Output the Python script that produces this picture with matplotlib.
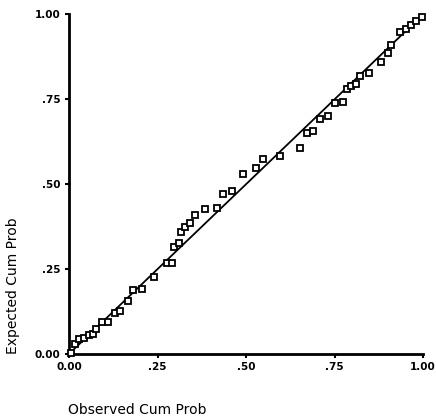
import numpy as np
import matplotlib
matplotlib.use('Agg')
import matplotlib.pyplot as plt

# ── 数据：观察累积概率 vs 期望累积概率 ─────────────────────────────
observed = [0.005, 0.017, 0.029, 0.043, 0.057, 0.069, 0.076, 0.092, 0.109, 0.130,
            0.144, 0.166, 0.182, 0.206, 0.241, 0.276, 0.290, 0.298, 0.311, 0.316,
            0.328, 0.342, 0.356, 0.384, 0.418, 0.434, 0.460, 0.492, 0.528, 0.549,
            0.596, 0.653, 0.672, 0.688, 0.710, 0.732, 0.751, 0.773, 0.784, 0.797,
            0.810, 0.822, 0.848, 0.880, 0.900, 0.911, 0.934, 0.951, 0.965, 0.980,
            0.996]
expected = [0.002, 0.029, 0.043, 0.046, 0.056, 0.059, 0.075, 0.095, 0.094, 0.120,
            0.127, 0.157, 0.189, 0.191, 0.226, 0.267, 0.268, 0.314, 0.326, 0.358,
            0.375, 0.385, 0.409, 0.427, 0.431, 0.472, 0.479, 0.529, 0.549, 0.574,
            0.583, 0.606, 0.650, 0.658, 0.693, 0.702, 0.740, 0.743, 0.781, 0.790,
            0.794, 0.819, 0.829, 0.860, 0.886, 0.911, 0.948, 0.958, 0.968, 0.981,
            0.993]
ref_line = [0.0, 1.0]
tick_vals = [0.0, 0.25, 0.5, 0.75, 1.0]
tick_labels = ["0.00", ".25", ".50", ".75", "1.00"]

fig = plt.figure(figsize=(4.36, 4.19), dpi=100)
ax = fig.add_axes([69 / 436, 65 / 419, 354 / 436, 339.5 / 419])

ax.plot(ref_line, ref_line, color='black', linewidth=1.3, zorder=2)
ax.plot(observed, expected, linestyle='none', marker='s', markersize=5,
        markerfacecolor='white', markeredgecolor='black', markeredgewidth=1.3,
        zorder=3, clip_on=False)

ax.set_xlim(0, 1)
ax.set_ylim(0, 1)
ax.set_xticks(tick_vals)
ax.set_xticklabels(tick_labels)
ax.set_yticks(tick_vals)
ax.set_yticklabels(tick_labels)

for side in ('top', 'right'):
    ax.spines[side].set_visible(False)
for side in ('left', 'bottom'):
    ax.spines[side].set_linewidth(2)

ax.tick_params(direction='out', length=3, width=1.5, pad=3, labelsize=7.5)
for lbl in ax.get_xticklabels() + ax.get_yticklabels():
    lbl.set_fontweight('bold')

fig.text(68 / 436, 1 - 410 / 419, "Observed Cum Prob", fontsize=10,
         ha='left', va='center')
fig.text(13 / 436, 1 - 354 / 419, "Expected Cum Prob", fontsize=10,
         rotation=90, ha='center', va='bottom')

fig.savefig('out.png', dpi=100)
